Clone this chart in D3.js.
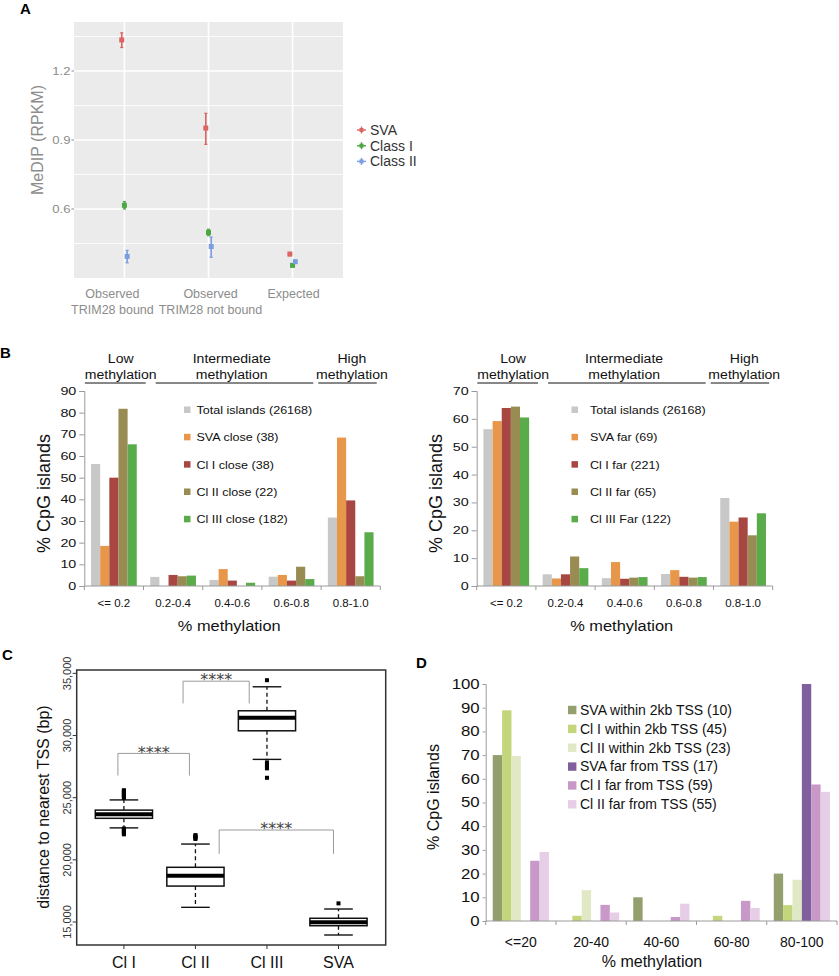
<!DOCTYPE html>
<html lang="en">
<head>
<meta charset="UTF-8">
<title>SVA / TRIM28 methylation figure</title>
<script src="https://d3js.org/d3.v7.min.js"></script>
<style>
    body {
        margin: 0;
        background: #fff;
    }

    svg {
        display: block;
        font-family: "Liberation Sans", Arial, sans-serif;
    }
</style>
</head>
<body>
<svg id="fig" width="839" height="976"></svg>
<script>
    // ---------- Panel A: MeDIP (RPKM), mean with error bars
    let groupsA = ["Observed\nTRIM28 bound", "Observed\nTRIM28 not bound", "Expected"]
    let seriesA = ["SVA", "Class I", "Class II"]
    let colorsA = ["#dc6462", "#4ea744", "#7a9ee0"]
    let svaMean = [1.335, 0.952, 0.404]
    let svaLow = [1.302, 0.881, 0.397]
    let svaHigh = [1.366, 1.016, 0.411]
    let class1Mean = [0.616, 0.498, 0.355]
    let class1Low = [0.600, 0.484, 0.349]
    let class1High = [0.632, 0.512, 0.361]
    let class2Mean = [0.394, 0.437, 0.371]
    let class2Low = [0.366, 0.390, 0.365]
    let class2High = [0.420, 0.478, 0.377]
    let ticksA = [0.6, 0.9, 1.2]
    let minorTicksA = [0.45, 0.75, 1.05, 1.35]

    // ---------- Panel B: % CpG islands by methylation bin
    let binsB = ["<= 0.2", "0.2-0.4", "0.4-0.6", "0.6-0.8", "0.8-1.0"]
    let colorsB = ["#c8c8c8", "#e8974a", "#a84641", "#998c52", "#5aab4a"]
    let totalIslands = [56.3, 4.2, 2.8, 4.3, 31.6]
    let svaClose = [18.5, 0, 7.8, 5.1, 68.5]
    let cl1Close = [50.0, 5.1, 2.5, 2.5, 39.5]
    let cl2Close = [81.8, 4.5, 0, 8.9, 4.5]
    let cl3Close = [65.4, 4.8, 1.5, 3.2, 24.8]
    let closeLabels = ["Total islands (26168)", "SVA close (38)", "Cl I close (38)", "Cl II close (22)", "Cl III close (182)"]
    let svaFar = [59.2, 2.7, 8.6, 5.7, 23.1]
    let cl1Far = [63.9, 4.2, 2.6, 3.3, 24.6]
    let cl2Far = [64.4, 10.6, 3.0, 3.0, 18.2]
    let cl3Far = [60.5, 6.4, 3.2, 3.2, 26.1]
    let farLabels = ["Total islands (26168)", "SVA far (69)", "Cl I far (221)", "Cl II far (65)", "Cl III Far (122)"]
    let headersB = [["Low", "methylation"], ["Intermediate", "methylation"], ["High", "methylation"]]

    // ---------- Panel C: distance to nearest TSS, box plots
    let groupsC = ["Cl I", "Cl II", "Cl III", "SVA"]
    let whiskerLowC = [22570, 16180, 28080, 13955]
    let q1C = [23340, 17890, 30380, 14700]
    let medianC = [23660, 18720, 31420, 14980]
    let q3C = [24000, 19400, 31990, 15300]
    let whiskerHighC = [24820, 21270, 33920, 16045]
    let outliersC = [
        [24980, 25060, 25140, 25220, 25300, 25380, 25460, 25540, 25600, 22050, 22130, 22210, 22290, 22370, 22450, 22520],
        [21680, 21760, 21840, 21920, 21990],
        [34450, 27360, 27460, 27580, 27700, 27840, 26600],
        [16500]
    ]
    let ticksC = [15000, 20000, 25000, 30000, 35000]
    // significance brackets: from / to (group position, 1-based), foot value, top value
    let bracketFrom = [0.916, 1.827, 2.332]
    let bracketTo = [1.916, 2.752, 3.93]
    let bracketFoot = [26780, 32580, 20480]
    let bracketTop = [28560, 34370, 22400]
    let bracketLabel = ["****", "****", "****"]

    // ---------- Panel D: % CpG islands by % methylation
    let binsD = ["<=20", "20-40", "40-60", "60-80", "80-100"]
    let colorsD = ["#949f6e", "#c4d67b", "#e1e8c5", "#7f5f9d", "#c898c8", "#e7cee7"]
    let svaWithin = [70.0, 0, 10.0, 0, 20.0]
    let cl1Within = [88.9, 2.2, 0, 2.2, 6.7]
    let cl2Within = [69.6, 13.0, 0, 0, 17.4]
    let svaFarTSS = [0, 0, 0, 0, 100]
    let cl1FarTSS = [25.4, 6.8, 1.7, 8.5, 57.6]
    let cl2FarTSS = [29.1, 3.6, 7.3, 5.5, 54.5]
    let labelsD = ["SVA within 2kb TSS (10)", "Cl I within 2kb TSS (45)", "Cl II within 2kb TSS (23)",
        "SVA far from TSS (17)", "Cl I far from TSS (59)", "Cl II far from TSS (55)"]

    let svg = d3.select("#fig")
    svg.append("rect").attr("width", 839).attr("height", 976).attr("fill", "#fff")

    // stretch text horizontally (the source figure's fonts run wide)
    function widen(sel, k) {
        sel.each(function () {
            let w = this.getComputedTextLength()
            d3.select(this).attr("textLength", w * k).attr("lengthAdjust", "spacingAndGlyphs")
        })
    }

    function panelLabel(t, x, y) {
        svg.append("text").attr("x", x).attr("y", y).text(t)
            .attr("font-size", 15).attr("font-weight", "bold")
    }

    // ================= Panel A =================
    function drawA() {
        let left = 74, right = 343, top = 22, bottom = 278
        let x = d3.scalePoint().domain(groupsA).range([left, right]).padding(0.6)
        let y = d3.scaleLinear().domain([0.30, 1.413]).range([bottom, top])
        let dodge = d3.scalePoint().domain(seriesA).range([-x.step() * 0.032, x.step() * 0.032])
        let g = svg.append("g")

        g.append("rect").attr("x", left).attr("y", top).attr("width", right - left)
            .attr("height", bottom - top).attr("fill", "#ebebeb")
        g.selectAll(".minorA").data(minorTicksA).join("line")
            .attr("x1", left).attr("x2", right).attr("y1", d => y(d)).attr("y2", d => y(d))
            .attr("stroke", "#fff").attr("stroke-width", 0.8)
        g.selectAll(".majorA").data(ticksA).join("line")
            .attr("x1", left).attr("x2", right).attr("y1", d => y(d)).attr("y2", d => y(d))
            .attr("stroke", "#fff").attr("stroke-width", 1.6)
        g.selectAll(".vgridA").data(groupsA).join("line")
            .attr("x1", d => x(d)).attr("x2", d => x(d)).attr("y1", top).attr("y2", bottom)
            .attr("stroke", "#fff").attr("stroke-width", 1.6)

        // y axis
        g.selectAll(".ytickA").data(ticksA).join("line")
            .attr("x1", left - 2.5).attr("x2", left).attr("y1", d => y(d)).attr("y2", d => y(d))
            .attr("stroke", "#8c8c8c")
        let yl = g.selectAll(".ylabA").data(ticksA).join("text")
            .attr("x", left - 3.5).attr("y", d => y(d)).attr("dy", "0.35em")
            .attr("text-anchor", "end").attr("font-size", 10.5).attr("fill", "#8c8c8c")
            .text(d => d3.format(".1f")(d))
        widen(yl, 1.25)
        g.append("text").attr("transform", "translate(37,140) rotate(-90)")
            .attr("dy", "0.35em").attr("text-anchor", "middle")
            .attr("font-size", 16).attr("fill", "#8c8c8c").text("MeDIP (RPKM)")

        // x labels (two lines)
        let shift = [-12, 2, 1]
        groupsA.forEach((grp, i) => {
            grp.split("\n").forEach((line, j) => {
                g.append("text").attr("x", x(grp) + shift[i]).attr("y", 298 + j * 15.5)
                    .attr("text-anchor", "middle").attr("font-size", 12.5).attr("fill", "#8c8c8c")
                    .text(line)
            })
        })

        // points with error bars
        let means = [svaMean, class1Mean, class2Mean]
        let lows = [svaLow, class1Low, class2Low]
        let highs = [svaHigh, class1High, class2High]
        let pts = []
        seriesA.forEach((s, j) => groupsA.forEach((grp, i) => {
            pts.push({ s: s, c: colorsA[j], cx: x(grp) + dodge(s), m: means[j][i], lo: lows[j][i], hi: highs[j][i] })
        }))
        let pg = g.selectAll(".ptA").data(pts).join("g")
        pg.append("line").attr("x1", d => d.cx).attr("x2", d => d.cx)
            .attr("y1", d => y(d.lo)).attr("y2", d => y(d.hi)).attr("stroke", d => d.c).attr("stroke-width", 1.6)
        pg.append("line").attr("x1", d => d.cx - 1.6).attr("x2", d => d.cx + 1.6)
            .attr("y1", d => y(d.lo)).attr("y2", d => y(d.lo)).attr("stroke", d => d.c).attr("stroke-width", 1.2)
        pg.append("line").attr("x1", d => d.cx - 1.6).attr("x2", d => d.cx + 1.6)
            .attr("y1", d => y(d.hi)).attr("y2", d => y(d.hi)).attr("stroke", d => d.c).attr("stroke-width", 1.2)
        pg.append("rect").attr("x", d => d.cx - 2.5).attr("y", d => y(d.m) - 2.5)
            .attr("width", 5).attr("height", 5).attr("fill", d => d.c)

        // legend
        seriesA.forEach((s, j) => {
            let ly = 130 + j * 15.7
            g.append("line").attr("x1", 357).attr("x2", 366).attr("y1", ly).attr("y2", ly)
                .attr("stroke", colorsA[j]).attr("stroke-width", 1.4)
            g.append("line").attr("x1", 361.5).attr("x2", 361.5).attr("y1", ly - 3.5).attr("y2", ly + 3.5)
                .attr("stroke", colorsA[j]).attr("stroke-width", 1.4)
            g.append("rect").attr("x", 359.5).attr("y", ly - 2).attr("width", 4).attr("height", 4).attr("fill", colorsA[j])
            g.append("text").attr("x", 370).attr("y", ly).attr("dy", "0.35em")
                .attr("font-size", 14).attr("fill", "#333").text(s)
        })
    }

    // ================= Panel B =================
    function drawB(x0, x1, yBase, yTop, maxY, series, labels, keyX, textX) {
        let xo = d3.scaleBand().domain(binsB).range([x0, x1])
        let xs = d3.scaleBand().domain(d3.range(series.length))
            .range([xo.bandwidth() * 0.114, xo.bandwidth() * 0.886])
        let y = d3.scaleLinear().domain([0, maxY]).range([yBase, yTop])
        let g = svg.append("g")

        series.forEach((vals, j) => {
            g.selectAll(null).data(vals).join("rect")
                .attr("x", (d, i) => xo(binsB[i]) + xs(j)).attr("width", xs.bandwidth())
                .attr("y", d => y(d)).attr("height", d => yBase - y(d)).attr("fill", colorsB[j])
        })

        // y axis
        let ya = g.append("g").attr("transform", `translate(${x0},0)`)
            .call(d3.axisLeft(y).tickValues(d3.range(0, maxY + 1, 10)).tickSize(5).tickPadding(3))
        ya.select(".domain").attr("stroke", "#9a9a9a")
        ya.selectAll(".tick line").attr("stroke", "#9a9a9a")
        ya.selectAll("text").attr("font-size", 11).attr("fill", "#111").attr("font-family", null)
        widen(ya.selectAll("text"), 1.3)

        // x axis: line with ticks at bin boundaries
        g.append("line").attr("x1", x0).attr("x2", x1).attr("y1", yBase).attr("y2", yBase).attr("stroke", "#9a9a9a")
        g.selectAll(".bnd").data(d3.range(binsB.length + 1)).join("line")
            .attr("x1", i => x0 + i * xo.step()).attr("x2", i => x0 + i * xo.step())
            .attr("y1", yBase).attr("y2", yBase + 4).attr("stroke", "#9a9a9a")
        g.selectAll(".xlab").data(binsB).join("text")
            .attr("x", d => xo(d) + xo.bandwidth() / 2).attr("y", yBase + 20.5)
            .attr("text-anchor", "middle").attr("font-size", 11.5).attr("fill", "#111").text(d => d)
        let title = g.append("text").attr("x", (x0 + x1) / 2 - 3).attr("y", yBase + 44.5)
            .attr("text-anchor", "middle").attr("font-size", 14).attr("fill", "#111")
            .text("% methylation")
        widen(title, 1.17)
        g.append("text").attr("transform", `translate(${x0 - 41},${(yBase + yTop) / 2 + 5}) rotate(-90)`)
            .attr("dy", "0.35em").attr("text-anchor", "middle").attr("font-size", 18).attr("fill", "#111")
            .text("% CpG islands")

        // headers with underlines (positions in bin steps)
        let centers = [0.615, 2.49, 4.52]
        let underline = [[0.01, 1.037], [1.206, 3.868], [3.953, 4.94]]
        headersB.forEach((h, k) => {
            let cx = x0 + centers[k] * xo.step()
            h.forEach((t, j) => {
                let tx = g.append("text").attr("x", cx).attr("y", 362.5 + j * 16.8)
                    .attr("text-anchor", "middle").attr("font-size", 12).attr("fill", "#111").text(t)
                widen(tx, 1.17)
            })
            g.append("line").attr("x1", x0 + underline[k][0] * xo.step()).attr("x2", x0 + underline[k][1] * xo.step())
                .attr("y1", 383).attr("y2", 383).attr("stroke", "#111").attr("stroke-width", 1)
        })

        // legend
        labels.forEach((t, j) => {
            let ly = 410 + j * 27.33
            g.append("rect").attr("x", keyX).attr("y", ly - 3.5).attr("width", 6.5).attr("height", 6.5).attr("fill", colorsB[j])
            let tx = g.append("text").attr("x", textX).attr("y", ly).attr("dy", "0.35em")
                .attr("font-size", 11).attr("fill", "#111").text(t)
            widen(tx, 1.14)
        })
    }

    // ================= Panel C =================
    function drawC() {
        let left = 76.7, right = 385.7, top = 670, bottom = 945
        let x = d3.scaleLinear().domain([0.34, 4.66]).range([left, right])
        let y = d3.scaleLinear().domain([13150, 35270]).range([bottom, top])
        let g = svg.append("g")

        // brackets
        bracketFrom.forEach((f, k) => {
            let xa = x(f), xb = x(bracketTo[k])
            g.append("path")
                .attr("d", `M${xa},${y(bracketFoot[k])}V${y(bracketTop[k])}H${xb}V${y(bracketFoot[k])}`)
                .attr("fill", "none").attr("stroke", "#9a9a9a").attr("stroke-width", 1)
            g.append("text").attr("x", (xa + xb) / 2).attr("y", y(bracketTop[k]) + 4.3)
                .attr("text-anchor", "middle").attr("font-family", "DejaVu Sans").attr("font-size", 16)
                .attr("fill", "#444").text(bracketLabel[k])
        })

        let bw = x(1.4) - x(1)
        groupsC.forEach((grp, i) => {
            let cx = x(i + 1)
            g.append("line").attr("x1", cx).attr("x2", cx).attr("y1", y(q3C[i])).attr("y2", y(whiskerHighC[i]))
                .attr("stroke", "#111").attr("stroke-width", 1.3).attr("stroke-dasharray", "4,3")
            g.append("line").attr("x1", cx).attr("x2", cx).attr("y1", y(q1C[i])).attr("y2", y(whiskerLowC[i]))
                .attr("stroke", "#111").attr("stroke-width", 1.3).attr("stroke-dasharray", "4,3")
            ;[whiskerHighC[i], whiskerLowC[i]].forEach(v => {
                g.append("line").attr("x1", cx - bw / 2).attr("x2", cx + bw / 2).attr("y1", y(v)).attr("y2", y(v))
                    .attr("stroke", "#111").attr("stroke-width", 1.4)
            })
            g.append("rect").attr("x", cx - bw).attr("y", y(q3C[i])).attr("width", bw * 2)
                .attr("height", y(q1C[i]) - y(q3C[i])).attr("fill", "#fff").attr("stroke", "#111").attr("stroke-width", 1.5)
            g.append("line").attr("x1", cx - bw).attr("x2", cx + bw).attr("y1", y(medianC[i])).attr("y2", y(medianC[i]))
                .attr("stroke", "#000").attr("stroke-width", 4)
            g.selectAll(null).data(outliersC[i]).join("rect")
                .attr("x", cx - 2).attr("y", d => y(d) - 2).attr("width", 4).attr("height", 4).attr("fill", "#000")
        })

        g.append("rect").attr("x", left).attr("y", top).attr("width", right - left).attr("height", bottom - top)
            .attr("fill", "none").attr("stroke", "#333").attr("stroke-width", 1.5)

        g.selectAll(".ytC").data(ticksC).join("line")
            .attr("x1", left - 4).attr("x2", left).attr("y1", d => y(d)).attr("y2", d => y(d)).attr("stroke", "#333")
        g.selectAll(".ylC").data(ticksC).join("text")
            .attr("transform", d => `translate(71,${y(d)}) rotate(-90)`)
            .attr("text-anchor", "middle").attr("font-size", 11).attr("fill", "#333").text(d => d3.format(",")(d))
        g.selectAll(".xtC").data(groupsC).join("line")
            .attr("x1", (d, i) => x(i + 1)).attr("x2", (d, i) => x(i + 1))
            .attr("y1", bottom).attr("y2", bottom + 4).attr("stroke", "#333")
        g.selectAll(".xlC").data(groupsC).join("text")
            .attr("x", (d, i) => x(i + 1)).attr("y", 968).attr("text-anchor", "middle")
            .attr("font-size", 16).attr("fill", "#111").text(d => d)
        g.append("text").attr("transform", "translate(43,807) rotate(-90)")
            .attr("dy", "0.35em").attr("text-anchor", "middle").attr("font-size", 16).attr("fill", "#111")
            .text("distance to nearest TSS (bp)")
    }

    // ================= Panel D =================
    function drawD() {
        let x0 = 485.7, x1 = 837, yBase = 921, yTop = 684
        let series = [svaWithin, cl1Within, cl2Within, svaFarTSS, cl1FarTSS, cl2FarTSS]
        let xo = d3.scaleBand().domain(binsD).range([x0, x1])
        let xs = d3.scaleBand().domain(d3.range(series.length)).range([xo.bandwidth() * 0.1, xo.bandwidth() * 0.9])
        let y = d3.scaleLinear().domain([0, 100]).range([yBase, yTop])
        let g = svg.append("g")

        series.forEach((vals, j) => {
            g.selectAll(null).data(vals).join("rect")
                .attr("x", (d, i) => xo(binsD[i]) + xs(j)).attr("width", xs.bandwidth())
                .attr("y", d => y(d)).attr("height", d => yBase - y(d)).attr("fill", colorsD[j])
        })

        let ya = g.append("g").attr("transform", `translate(${x0},0)`)
            .call(d3.axisLeft(y).tickValues(d3.range(0, 101, 10)).tickSize(3).tickPadding(3))
        ya.select(".domain").attr("stroke", "#9a9a9a")
        ya.selectAll(".tick line").attr("stroke", "#9a9a9a")
        ya.selectAll("text").attr("font-size", 14).attr("fill", "#111").attr("font-family", null)
        widen(ya.selectAll("text"), 1.2)

        g.append("line").attr("x1", x0).attr("x2", x1).attr("y1", yBase).attr("y2", yBase).attr("stroke", "#9a9a9a")
        g.selectAll(".bndD").data(d3.range(binsD.length + 1)).join("line")
            .attr("x1", i => x0 + i * xo.step()).attr("x2", i => x0 + i * xo.step())
            .attr("y1", yBase).attr("y2", yBase + 4).attr("stroke", "#9a9a9a")
        g.selectAll(".xlD").data(binsD).join("text")
            .attr("x", d => xo(d) + xo.bandwidth() / 2).attr("y", 946.5)
            .attr("text-anchor", "middle").attr("font-size", 14).attr("fill", "#111").text(d => d)
        g.append("text").attr("x", 652).attr("y", 966.5).attr("text-anchor", "middle")
            .attr("font-size", 16).attr("fill", "#111").text("% methylation")
        g.append("text").attr("transform", "translate(433.5,797) rotate(-90)")
            .attr("dy", "0.35em").attr("text-anchor", "middle").attr("font-size", 16).attr("fill", "#111")
            .text("% CpG islands")

        labelsD.forEach((t, j) => {
            let ly = 710 + j * 18.86
            g.append("rect").attr("x", 568).attr("y", ly - 4.2).attr("width", 8.4).attr("height", 8.4).attr("fill", colorsD[j])
            g.append("text").attr("x", 580).attr("y", ly).attr("dy", "0.35em")
                .attr("font-size", 14).attr("fill", "#111").text(t)
        })
    }

    drawA()
    drawB(84.3, 380.3, 586, 391, 90, [totalIslands, svaClose, cl1Close, cl2Close, cl3Close], closeLabels, 184, 196.5)
    drawB(476.7, 772.7, 586, 391, 70, [totalIslands, svaFar, cl1Far, cl2Far, cl3Far], farLabels, 571.5, 590)
    drawC()
    drawD()

    panelLabel("A", 20, 13.5)
    panelLabel("B", 0, 358)
    panelLabel("C", 2, 660)
    panelLabel("D", 416, 668)
</script>
</body>
</html>
